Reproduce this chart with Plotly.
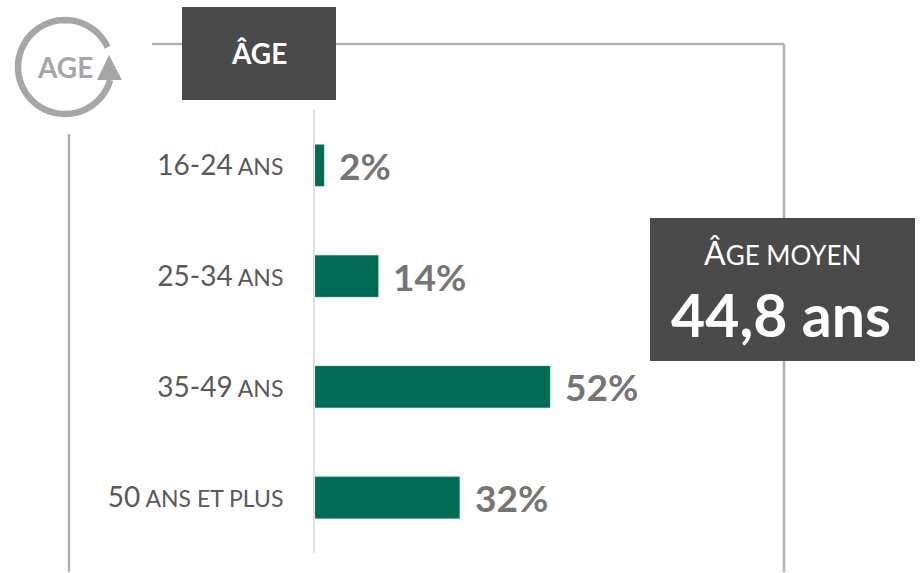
import numpy as np
import plotly.graph_objects as go

W, H = 922, 573
categories = ["16-24 ANS", "25-34 ANS", "35-49 ANS", "50 ANS ET PLUS"]
tick_numbers = ["16-24", "25-34", "35-49", "50"]
tick_suffixes = [" ANS", " ANS", " ANS", " ANS ET PLUS"]
values = [2, 14, 52, 32]
value_labels = ["2%", "14%", "52%", "32%"]
panel_title = "ÂGE"
icon_label = "AGE"
mean_label_first = "Â"
mean_label_rest = "GE MOYEN"
mean_value = "44,8 ans"

FONT = "Lato, Carlito, sans-serif"
GREEN = "#006b54"
DARK = "#4a4a4a"
FRAME = "#b0b0b0"

L, R, T, B = 315, 277, 110, 20
PW, PH = W - L - R, H - T - B


def px(x):
    return (x - L) / PW


def py(y):
    return 1 - (y - T) / PH


tick_text = [
    f'{c}<span style="font-size:23px">{s}</span>'
    for c, s in zip(tick_numbers, tick_suffixes)
]

fig = go.Figure(
    go.Bar(
        x=values,
        y=categories,
        orientation="h",
        marker=dict(color=GREEN, line=dict(color="#4d9a88", width=0.5)),
        width=0.375,
        hoverinfo="skip",
    )
)


def box(x0, y0, x1, y1):
    return dict(
        type="rect", xref="paper", yref="paper", layer="above",
        x0=px(x0), x1=px(x1), y0=py(y0), y1=py(y1),
        fillcolor=DARK, line=dict(width=0),
    )


def line(x0, y0, x1, y1):
    return dict(
        type="line", xref="paper", yref="paper", layer="below",
        x0=px(x0), x1=px(x1), y0=py(y0), y1=py(y1),
        line=dict(color=FRAME, width=2.5),
    )


# circular arrow of the icon
cx, cy, r = 65, 67, 47
ang = np.radians(np.linspace(25, 344, 70))
arc = "M" + " L".join(
    f"{px(cx + r * np.cos(a)):.5f},{py(cy - r * np.sin(a)):.5f}" for a in ang
)
tri = (
    f"M{px(109):.5f},{py(55):.5f} L{px(97):.5f},{py(80):.5f} "
    f"L{px(122):.5f},{py(80):.5f} Z"
)

shapes = [
    line(152, 44, 784, 44),
    line(784, 44, 784, 572),
    line(69, 134, 69, 572),
    box(182, 7, 336, 100),
    box(650, 218, 915, 361),
    dict(type="path", xref="paper", yref="paper", path=arc,
         line=dict(color="#a6a6a6", width=6.5)),
    dict(type="path", xref="paper", yref="paper", path=tri,
         fillcolor="#a6a6a6", line=dict(width=0)),
]


def label(x, y, text, size, color, bold=False):
    return dict(
        xref="paper", yref="paper", x=px(x), y=py(y), text=f"<b>{text}</b>" if bold else text,
        showarrow=False, xanchor="center", yanchor="middle",
        font=dict(family=FONT, size=size, color=color),
    )


annotations = [
    dict(
        x=v, y=c, text=f"<b>{t}</b>", xref="x", yref="y", showarrow=False,
        xanchor="left", yanchor="middle", xshift=13,
        font=dict(family=FONT, size=37, color="#757575"),
    )
    for v, c, t in zip(values, categories, value_labels)
]
annotations += [
    label(259, 53, panel_title, 28, "white", True),
    label(65, 67, icon_label, 28, "#a6a6a6", True),
    label(782, 252, f'<span style="font-size:32px">{mean_label_first}</span>{mean_label_rest}', 26, "white"),
    label(781, 314, mean_value, 59, "white", True),
]

fig.update_layout(
    width=W,
    height=H,
    autosize=False,
    margin=dict(l=L, r=R, t=T, b=B, pad=0),
    paper_bgcolor="white",
    plot_bgcolor="white",
    showlegend=False,
    xaxis=dict(range=[0, PW / 4.52], visible=False, fixedrange=True),
    yaxis=dict(
        type="category",
        categoryorder="array",
        categoryarray=categories,
        range=[3.5, -0.5],
        tickmode="array",
        tickvals=categories,
        ticktext=tick_text,
        ticks="",
        ticklabelstandoff=24,
        tickfont=dict(family=FONT, size=28, color="#595959"),
        showline=True,
        linecolor="#dedede",
        linewidth=2,
        showgrid=False,
        fixedrange=True,
    ),
    shapes=shapes,
    annotations=annotations,
)

fig.write_html(
    "out.html",
    config={"displayModeBar": False},
    post_script="document.body.style.margin='0';document.documentElement.style.overflow='hidden';",
)
